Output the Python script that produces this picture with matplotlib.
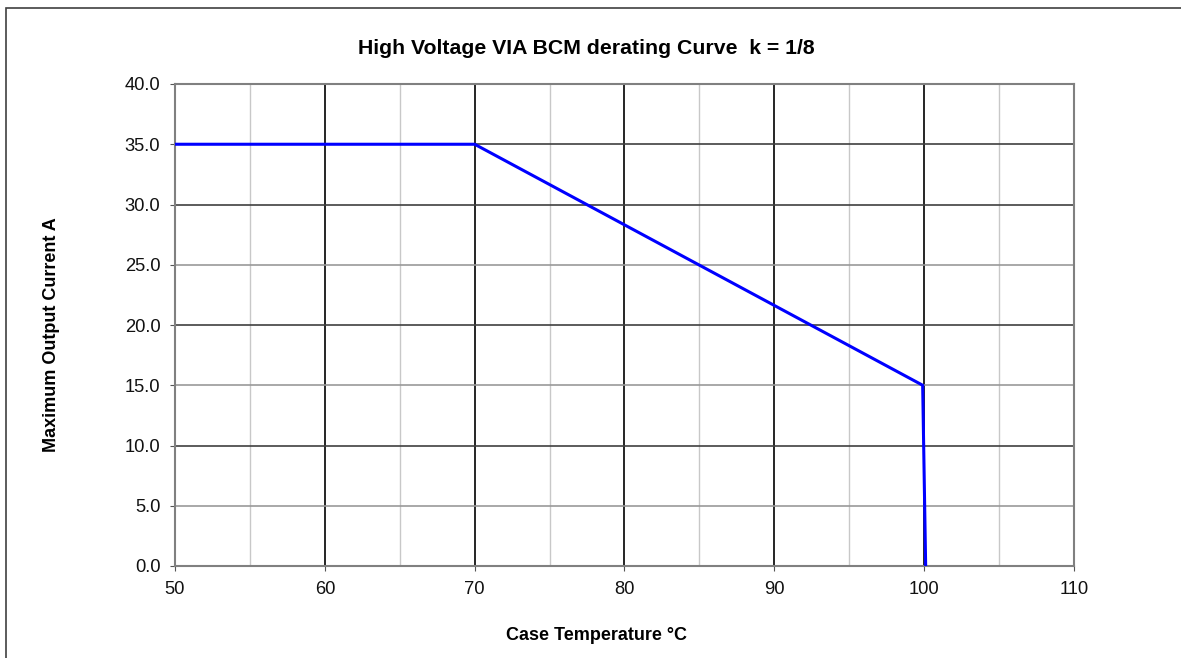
import matplotlib
matplotlib.use("Agg")
import matplotlib.pyplot as plt
from matplotlib.patches import Rectangle

# derating curve
temp_c = [50, 70, 99.9, 100.1]
current_a = [35.0, 35.0, 15.0, 0.0]

x_major = [50, 60, 70, 80, 90, 100, 110]
x_minor = [55, 65, 75, 85, 95, 105]
y_dark = [10, 20, 30, 35]
y_ticks = [0, 5, 10, 15, 20, 25, 30, 35, 40]

W, H = 1181, 658
plt.rcParams["font.family"] = ["Liberation Sans", "DejaVu Sans"]

fig = plt.figure(figsize=(W / 100, H / 100), dpi=100)
# outer frame of the chart object
fig.patches.append(Rectangle((6 / W, -0.01), 1.2, (H - 8) / H + 0.01,
                             transform=fig.transFigure, fill=False,
                             edgecolor="#404040", linewidth=1.2))

left, right, top, bottom = 175, 1074, 84, 566
ax = fig.add_axes([left / W, 1 - bottom / H, (right - left) / W, (bottom - top) / H])

ax.set_xlim(50, 110)
ax.set_ylim(0, 40)
ax.set_xticks(x_major)
ax.set_xticks(x_minor, minor=True)
ax.set_yticks(y_ticks)
ax.set_yticklabels([f"{v:.1f}" for v in y_ticks])

# grid lines
for x in x_minor:
    ax.axvline(x, color="#c8c8c8", linewidth=1, zorder=1)
for x in x_major[1:-1]:
    ax.axvline(x, color="black", linewidth=1.2, zorder=1)
for y in y_ticks[1:-1]:
    c = "#404040" if y in y_dark else "#999999"
    ax.axhline(y, color=c, linewidth=1.2, zorder=1)

ax.plot(temp_c, current_a, color="#0000ff", linewidth=2.2, zorder=3,
        solid_joinstyle="miter")

for s in ax.spines.values():
    s.set_color("#808080")
    s.set_linewidth(1.5)
ax.tick_params(axis="both", which="major", direction="out", length=3.6,
               color="#555555", labelsize=13.2, labelcolor="#111111", pad=7)
ax.tick_params(axis="x", which="minor", length=0)

fig.text(586 / W, 1 - 48 / H,
         "High Voltage VIA BCM derating Curve  k = 1/8",
         ha="center", va="center", fontsize=15.3, fontweight="bold")
fig.text(596 / W, 1 - 635 / H, "Case Temperature °C",
         ha="center", va="center", fontsize=13, fontweight="bold")
fig.text(52 / W, 1 - 335 / H, "Maximum Output Current A", rotation=90,
         ha="center", va="center", fontsize=13, fontweight="bold")

fig.savefig("out.png", dpi=100)
